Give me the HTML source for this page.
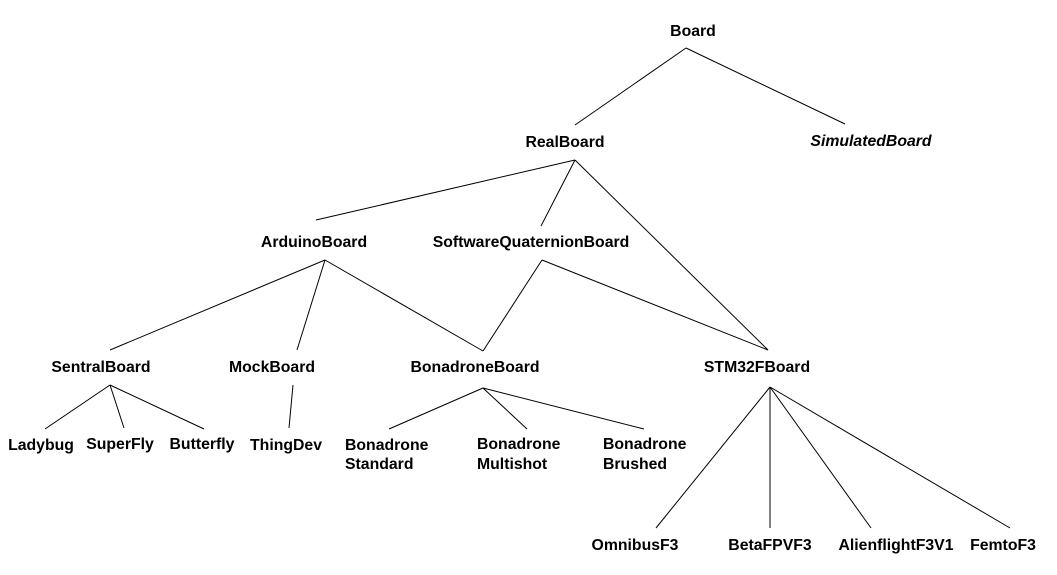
<!DOCTYPE html>
<html><head><style>
html,body{margin:0;padding:0;background:#fff;}
svg text{font-family:"Liberation Sans",sans-serif;font-weight:bold;font-size:15.8px;fill:#000;}
</style></head><body>
<svg width="1057" height="570" viewBox="0 0 1057 570" xmlns="http://www.w3.org/2000/svg">
<g stroke="#000" stroke-width="1" fill="none">
<line x1="686" y1="48" x2="575" y2="125"/>
<line x1="686" y1="48" x2="845" y2="124"/>
<line x1="575" y1="160" x2="316" y2="220"/>
<line x1="575" y1="160" x2="541" y2="226"/>
<line x1="575" y1="160" x2="768" y2="350"/>
<line x1="325" y1="260" x2="110" y2="350"/>
<line x1="325" y1="260" x2="297" y2="350"/>
<line x1="325" y1="260" x2="483" y2="351"/>
<line x1="542" y1="260" x2="483" y2="351"/>
<line x1="542" y1="260" x2="768" y2="350"/>
<line x1="110" y1="385" x2="45" y2="429"/>
<line x1="110" y1="385" x2="124" y2="428"/>
<line x1="110" y1="385" x2="204" y2="429"/>
<line x1="293" y1="385" x2="289" y2="428"/>
<line x1="483" y1="388" x2="389" y2="429"/>
<line x1="483" y1="388" x2="527" y2="429"/>
<line x1="483" y1="388" x2="644" y2="429"/>
<line x1="770" y1="387" x2="656" y2="528"/>
<line x1="770" y1="387" x2="770" y2="528"/>
<line x1="770" y1="387" x2="871" y2="528"/>
<line x1="770" y1="387" x2="1010" y2="528"/>
</g>
<g text-anchor="middle">
<text x="693" y="36">Board</text>
<text x="565" y="147">RealBoard</text>
<text x="871" y="146" font-style="italic">SimulatedBoard</text>
<text x="314" y="247">ArduinoBoard</text>
<text x="531" y="247">SoftwareQuaternionBoard</text>
<text x="101" y="372">SentralBoard</text>
<text x="272" y="372">MockBoard</text>
<text x="475" y="372">BonadroneBoard</text>
<text x="757" y="372">STM32FBoard</text>
<text x="41" y="450">Ladybug</text>
<text x="120" y="449">SuperFly</text>
<text x="202" y="449">Butterfly</text>
<text x="286" y="450">ThingDev</text>
<text x="635" y="550">OmnibusF3</text>
<text x="770" y="550">BetaFPVF3</text>
<text x="896" y="550">AlienflightF3V1</text>
<text x="1003" y="550">FemtoF3</text>
</g>
<text x="345" y="450">Bonadrone</text>
<text x="345" y="469">Standard</text>
<text x="477" y="449">Bonadrone</text>
<text x="477" y="469">Multishot</text>
<text x="603" y="449">Bonadrone</text>
<text x="603" y="469">Brushed</text>
</svg>
</body></html>
